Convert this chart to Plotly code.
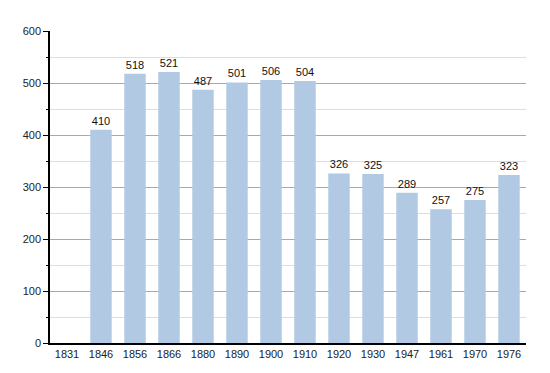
import plotly.graph_objects as go

years = ["1831", "1846", "1856", "1866", "1880", "1890", "1900", "1910",
         "1920", "1930", "1947", "1961", "1970", "1976"]
population = [None, 410, 518, 521, 487, 501, 506, 504, 326, 325, 289, 257, 275, 323]
y_ticks = [0, 100, 200, 300, 400, 500, 600]

labels = ["" if v is None else str(v) for v in population]

fig = go.Figure(go.Bar(
    x=years, y=population, text=labels, textposition="outside",
    textfont=dict(size=11, color="#111111"),
    marker=dict(color="#b1c9e3", line=dict(width=0)),
    cliponaxis=False,
))

fig.update_layout(
    width=550, height=373,
    margin=dict(l=42, r=32, t=23, b=38, autoexpand=False),
    paper_bgcolor="white", plot_bgcolor="white",
    font=dict(family="Liberation Sans, Arial, sans-serif", size=11, color="#222222"),
    bargap=0.37,
    showlegend=False,
    xaxis=dict(type="category", showline=True, linecolor="black", linewidth=1.5,
               ticks="", showgrid=False, tickfont=dict(size=11)),
    yaxis=dict(range=[0, 600], tickvals=y_ticks, showline=True, linecolor="black",
               linewidth=1.5, ticks="outside", ticklen=5, tickcolor="black",
               showgrid=True, gridcolor="#aaaaaa", gridwidth=1, zeroline=False,
               tickfont=dict(size=11),
               minor=dict(dtick=50, ticks="outside", ticklen=2, tickcolor="black",
                          showgrid=True, gridcolor="#dddddd", gridwidth=1)),
)

fig.write_html("out.html")
